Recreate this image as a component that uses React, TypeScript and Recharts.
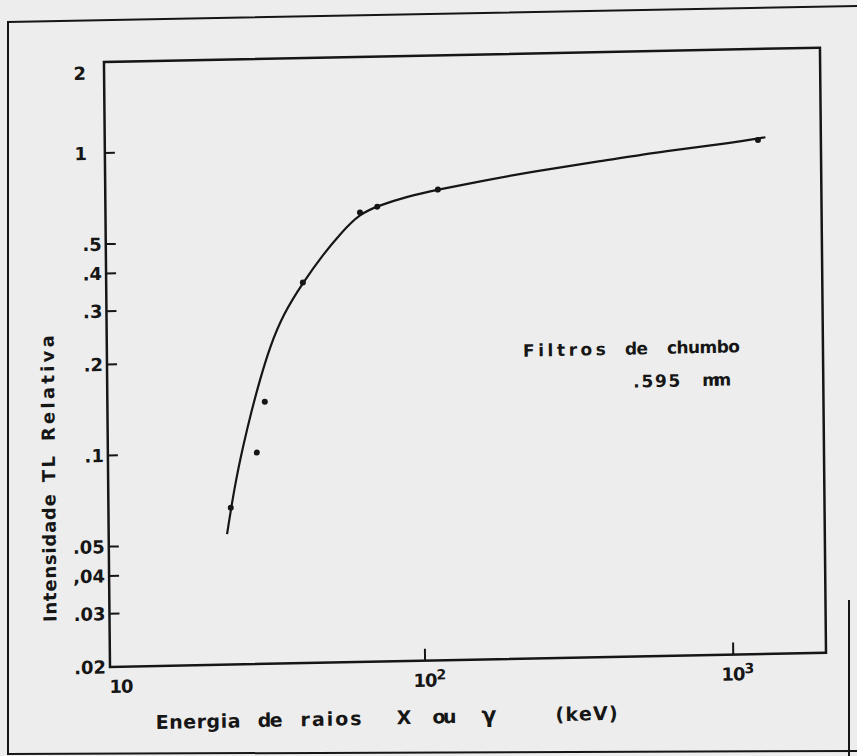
import React from "react";
import { ComposedChart, Line, Scatter, XAxis, YAxis, ReferenceArea } from "recharts";

// measured points (keV, relative TL intensity)
const measuredEnergy = [23.7, 28.9, 30.8, 41.3, 63.6, 72.4, 114, 1250];
const measuredIntensity = [0.066, 0.1, 0.147, 0.362, 0.612, 0.638, 0.72, 1.0];

// hand-drawn fitted curve
const curveEnergy = [23.0, 24.5, 26.2, 27.9, 29.7, 32.1, 35.6, 41.3, 48.3, 54.7, 63.6, 74.0, 90.3, 114, 156, 233, 384, 633, 1043, 1322];
const curveIntensity = [0.054, 0.079, 0.107, 0.138, 0.173, 0.223, 0.286, 0.362, 0.449, 0.521, 0.608, 0.645, 0.686, 0.72, 0.761, 0.815, 0.871, 0.935, 0.984, 1.02];

const xTicks = [10, 100, 1000];
const xTickExponents = ["", "2", "3"];
const yTicks = [0.02, 0.03, 0.04, 0.05, 0.1, 0.2, 0.3, 0.4, 0.5, 1, 2];
const yTickLabels = [".02", ".03", ",04", ".05", ".1", ".2", ".3", ".4", ".5", "1", "2"];

const xDomain = [9.5, 2000];
const yDomain = [0.02, 2];

const measured = measuredEnergy.map((x, i) => ({ x, y: measuredIntensity[i] }));
const curve = curveEnergy.map((x, i) => ({ x, y: curveIntensity[i] }));

const INK = "#161616";
const FONT = "'DejaVu Sans', Verdana, sans-serif";

const YTick = (props: any) => {
  const { x, y, payload } = props;
  const v = payload.value;
  const i = yTicks.indexOf(v);
  const label = i >= 0 ? yTickLabels[i] : "";
  const whole = v >= 1;
  const corner = v === 2 || v === 0.02;
  return (
    <g>
      {!corner && <line x1={x} x2={x + 10} y1={y} y2={y} stroke={INK} strokeWidth={2} />}
      <text
        x={whole ? x - 18 : x - 4}
        y={v === 2 ? y + 11 : y}
        dy="0.36em"
        textAnchor="end"
        fontFamily={FONT}
        fontWeight="bold"
        fontSize={18}
        fill={INK}
      >
        {label}
      </text>
    </g>
  );
};

const XTick = (props: any) => {
  const { x, y, payload } = props;
  const v = payload.value;
  const i = xTicks.indexOf(v);
  const sup = i >= 0 ? xTickExponents[i] : "";
  return (
    <g>
      {v !== 10 && <line x1={x} x2={x} y1={y} y2={y - 12} stroke={INK} strokeWidth={2} />}
      <text x={x + 4} y={y + 26} textAnchor="middle" fontFamily={FONT} fontWeight="bold" fontSize={18} letterSpacing={-1} fill={INK}>
        10
        {sup && (
          <tspan dy={-7} fontSize={14}>
            {sup}
          </tspan>
        )}
      </text>
    </g>
  );
};

const Dot = (props: any) => <circle cx={props.cx} cy={props.cy} r={3} fill={INK} />;

// one word of hand-lettered text, stretched to the width it has in the figure
const Word = ({ x, y, w, children, size }: any) => (
  <tspan x={x} y={y} textLength={w} lengthAdjust="spacing" fontSize={size}>
    {children}
  </tspan>
);

export default function App() {
  return (
    <div style={{ position: "fixed", left: 0, top: 0, width: 857, height: 756, background: "#ededed", overflow: "hidden" }}>
      <svg width={857} height={756} style={{ position: "absolute", left: 0, top: 0 }}>
        <polyline points="857,6 8,22 8,754 857,751" fill="none" stroke={INK} strokeWidth={2} />
        <line x1={849} x2={849} y1={600} y2={756} stroke={INK} strokeWidth={2} />
      </svg>
      <div
        style={{
          position: "absolute",
          left: 0,
          top: 0,
          width: 857,
          height: 756,
          transform: "matrix(1, -0.02, 0.01, 1, 0, 0)",
          transformOrigin: "110px 667px",
        }}
      >
        <ComposedChart width={857} height={756} margin={{ top: 62, right: 31, bottom: 59, left: 50 }}>
          <XAxis
            dataKey="x"
            type="number"
            scale="log"
            domain={xDomain}
            allowDataOverflow
            ticks={xTicks}
            tick={<XTick />}
            tickSize={0}
            tickMargin={0}
            axisLine={false}
            tickLine={false}
            height={30}
          />
          <YAxis
            dataKey="y"
            type="number"
            scale="log"
            domain={yDomain}
            allowDataOverflow
            ticks={yTicks}
            tick={<YTick />}
            tickSize={0}
            tickMargin={0}
            axisLine={false}
            tickLine={false}
            width={60}
          />
          <ReferenceArea x1={xDomain[0]} x2={xDomain[1]} y1={yDomain[0]} y2={yDomain[1]} fill="none" stroke={INK} strokeWidth={2.5} fillOpacity={0} />
          <Line data={curve} dataKey="y" type="basis" stroke={INK} strokeWidth={2.2} dot={false} isAnimationActive={false} />
          <Scatter data={measured} dataKey="y" fill={INK} shape={<Dot />} isAnimationActive={false} />
        </ComposedChart>
        <svg width={857} height={756} style={{ position: "absolute", left: 0, top: 0, pointerEvents: "none" }}>
          <g fontFamily={FONT} fontWeight="bold" fill={INK}>
            <g transform="translate(57, 0) rotate(-90)">
              <text fontSize={18}>
                <Word x={-621} y={0} w={128}>Intensidade</Word>
                <Word x={-481} y={0} w={26}>TL</Word>
                <Word x={-440} y={0} w={106}>Relativa</Word>
              </text>
            </g>
            <text fontSize={19}>
              <Word x={155} y={730} w={85}>Energia</Word>
              <Word x={257} y={730} w={25}>de</Word>
              <Word x={300} y={730} w={61}>raios</Word>
              <Word x={396} y={730} w={16}>X</Word>
              <Word x={432} y={730} w={24}>ou</Word>
              <Word x={481} y={730} w={18} size={22}>γ</Word>
              <Word x={555} y={730} w={62}>(keV)</Word>
            </text>
            <text fontSize={17}>
              <Word x={526} y={365} w={83}>Filtros</Word>
              <Word x={628} y={365} w={23}>de</Word>
              <Word x={670} y={365} w={73}>chumbo</Word>
              <Word x={636} y={398} w={47}>.595</Word>
              <Word x={705} y={398} w={29}>mm</Word>
            </text>
          </g>
        </svg>
      </div>
    </div>
  );
}
